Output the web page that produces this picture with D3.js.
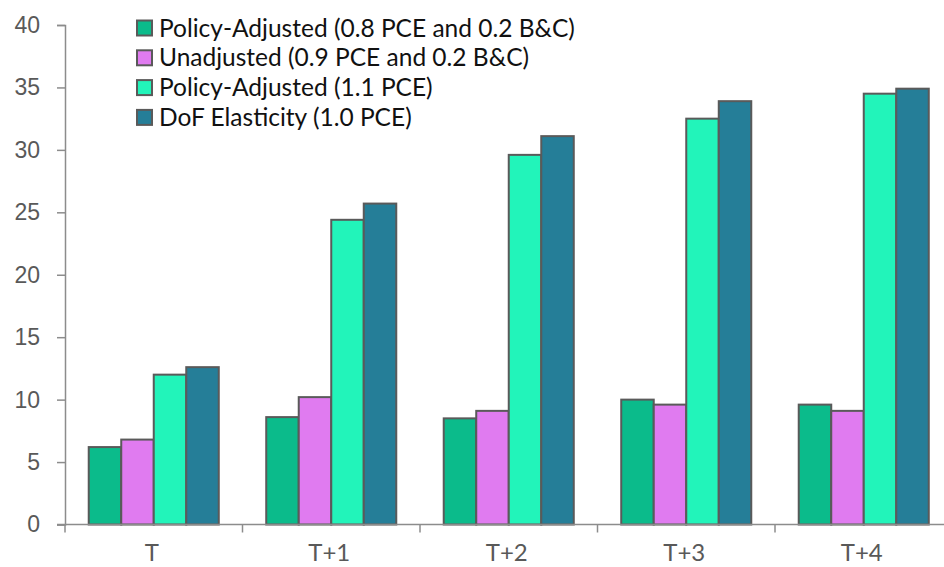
<!DOCTYPE html>
<html>
<head>
<meta charset="utf-8">
<script src="https://cdn.jsdelivr.net/npm/d3@7"></script>
<style>
  body { margin: 0; background: #fff; }
  svg { display: block; font-family: Lato, "Noto Sans", sans-serif; }
</style>
</head>
<body>
<svg width="944" height="567"></svg>
<script>
const width = 944;
const height = 567;

const categories = ["T", "T+1", "T+2", "T+3", "T+4"];
const seriesNames = [
  "Policy-Adjusted (0.8 PCE and 0.2 B&C)",
  "Unadjusted (0.9 PCE and 0.2 B&C)",
  "Policy-Adjusted (1.1 PCE)",
  "DoF Elasticity (1.0 PCE)"
];
const seriesColors = ["#0bbb8b", "#e07bf0", "#22f4ba", "#257e98"];
const policyAdjusted08 = [6.2, 8.6, 8.5, 10.0, 9.6];
const unadjusted09 = [6.8, 10.2, 9.1, 9.6, 9.1];
const policyAdjusted11 = [12.0, 24.4, 29.6, 32.5, 34.5];
const dofElasticity = [12.6, 25.7, 31.1, 33.9, 34.9];
const yTicks = [0, 5, 10, 15, 20, 25, 30, 35, 40];

const seriesValues = [policyAdjusted08, unadjusted09, policyAdjusted11, dofElasticity];

const svg = d3.select("svg");

// plot runs past the right edge, like the original
const x = d3.scaleBand()
  .domain(categories)
  .range([65, 952.5])
  .padding(0);

const x1 = d3.scaleBand()
  .domain(d3.range(seriesNames.length))
  .range([0, x.bandwidth()])
  .paddingInner(0)
  .paddingOuter(0.73);

const y = d3.scaleLinear()
  .domain([0, 40])
  .range([524.5, 25]);

// y axis
const yAxis = svg.append("g")
  .attr("transform", "translate(65,0)")
  .call(d3.axisLeft(y).tickValues(yTicks).tickSize(8).tickPadding(17));
yAxis.select(".domain").attr("stroke", "#8c8c8c").attr("stroke-width", 1.5);
yAxis.selectAll(".tick line").attr("stroke", "#8c8c8c").attr("stroke-width", 1.5);
yAxis.selectAll(".tick text")
  .attr("fill", "#595959")
  .style("font-size", "23px");

// bars
const groups = svg.append("g")
  .selectAll("g")
  .data(categories)
  .join("g")
  .attr("transform", d => `translate(${x(d)},0)`);

groups.selectAll("rect")
  .data((c, ci) => seriesValues.map((vals, si) => ({ si, v: vals[ci] })))
  .join("rect")
  .attr("x", d => x1(d.si))
  .attr("width", x1.bandwidth())
  .attr("y", d => y(d.v))
  .attr("height", d => y(0) - y(d.v))
  .attr("fill", d => seriesColors[d.si])
  .attr("stroke", "#5a5a5a")
  .attr("stroke-width", 2);

// x axis line and boundary ticks
const xAxis = svg.append("g");
xAxis.append("line")
  .attr("x1", 57).attr("x2", width)
  .attr("y1", y(0)).attr("y2", y(0))
  .attr("stroke", "#8c8c8c")
  .attr("stroke-width", 1.5);

const edges = categories.map(c => x(c)).concat([x.range()[1]]);
xAxis.selectAll("line.edge")
  .data(edges)
  .join("line")
  .attr("class", "edge")
  .attr("x1", d => d).attr("x2", d => d)
  .attr("y1", y(0)).attr("y2", y(0) + 8)
  .attr("stroke", "#8c8c8c")
  .attr("stroke-width", 1.5);

xAxis.selectAll("text.cat")
  .data(categories)
  .join("text")
  .attr("class", "cat")
  .attr("x", d => x(d) + x.bandwidth() / 2 - 2)
  .attr("y", 561)
  .attr("text-anchor", "middle")
  .attr("fill", "#595959")
  .style("font-size", "24px")
  .text(d => d);

// legend
const legend = svg.append("g")
  .selectAll("g")
  .data(seriesNames)
  .join("g")
  .attr("transform", (d, i) => `translate(137,${28 + i * 29.8})`);

legend.append("rect")
  .attr("x", 0).attr("y", -7.5)
  .attr("width", 15).attr("height", 15)
  .attr("fill", (d, i) => seriesColors[i])
  .attr("stroke", "#5a5a5a")
  .attr("stroke-width", 2);

legend.append("text")
  .attr("x", 22)
  .attr("dy", "0.35em")
  .attr("fill", "#111")
  .style("font-size", "24.5px")
  .text(d => d);
</script>
</body>
</html>
